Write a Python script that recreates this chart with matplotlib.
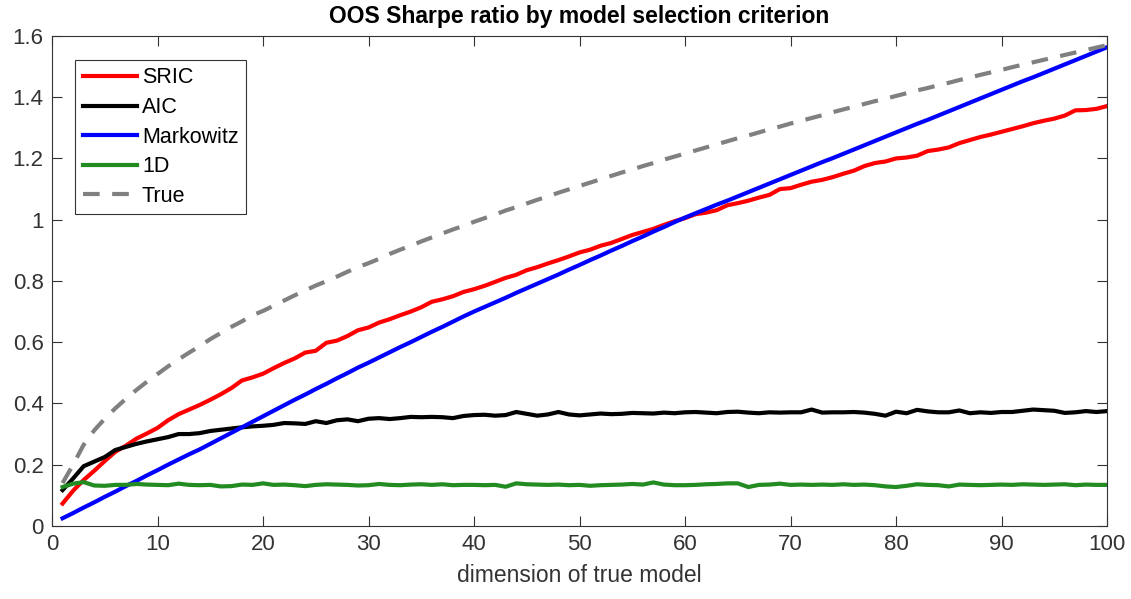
import numpy as np
import matplotlib
matplotlib.use("Agg")
import matplotlib.pyplot as plt
import matplotlib.ticker as ticker

plt.rcParams['font.family'] = ['Liberation Sans', 'DejaVu Sans']

# dimension of true model
dims = list(range(1, 101))

sric = [0.073, 0.115, 0.150, 0.180, 0.212, 0.242, 0.262, 0.285, 0.302, 0.320,
        0.345, 0.365, 0.380, 0.395, 0.412, 0.430, 0.450, 0.475, 0.485, 0.497,
        0.515, 0.532, 0.547, 0.566, 0.572, 0.598, 0.605, 0.620, 0.639, 0.648,
        0.664, 0.675, 0.688, 0.700, 0.714, 0.732, 0.740, 0.750, 0.764, 0.773,
        0.784, 0.797, 0.810, 0.820, 0.835, 0.845, 0.857, 0.868, 0.880, 0.893,
        0.902, 0.915, 0.924, 0.937, 0.950, 0.960, 0.970, 0.983, 0.995, 1.005,
        1.018, 1.023, 1.031, 1.047, 1.054, 1.062, 1.072, 1.081, 1.100, 1.103,
        1.114, 1.124, 1.130, 1.139, 1.150, 1.160, 1.175, 1.185, 1.190, 1.200,
        1.203, 1.209, 1.224, 1.229, 1.236, 1.250, 1.260, 1.270, 1.278, 1.287,
        1.296, 1.305, 1.315, 1.323, 1.330, 1.340, 1.357, 1.358, 1.362, 1.371]

aic = [0.117, 0.155, 0.195, 0.210, 0.225, 0.248, 0.258, 0.268, 0.276, 0.283,
       0.290, 0.300, 0.300, 0.303, 0.310, 0.314, 0.318, 0.322, 0.325, 0.327,
       0.330, 0.336, 0.335, 0.333, 0.342, 0.336, 0.345, 0.348, 0.342, 0.350,
       0.352, 0.349, 0.352, 0.356, 0.355, 0.356, 0.355, 0.352, 0.359, 0.362,
       0.363, 0.360, 0.362, 0.372, 0.366, 0.360, 0.364, 0.372, 0.364, 0.361,
       0.364, 0.367, 0.365, 0.366, 0.369, 0.368, 0.367, 0.370, 0.368, 0.371,
       0.372, 0.370, 0.368, 0.372, 0.373, 0.370, 0.368, 0.371, 0.370, 0.371,
       0.371, 0.380, 0.370, 0.371, 0.371, 0.372, 0.370, 0.366, 0.360, 0.373,
       0.368, 0.379, 0.374, 0.371, 0.371, 0.377, 0.368, 0.371, 0.369, 0.372,
       0.372, 0.376, 0.380, 0.378, 0.376, 0.369, 0.371, 0.375, 0.372, 0.375]

markowitz = [0.025, 0.042, 0.060, 0.077, 0.095, 0.112, 0.130, 0.147, 0.165, 0.182,
             0.200, 0.217, 0.234, 0.250, 0.268, 0.286, 0.304, 0.322, 0.340, 0.358,
             0.376, 0.394, 0.412, 0.429, 0.447, 0.464, 0.482, 0.499, 0.517, 0.533,
             0.550, 0.567, 0.584, 0.600, 0.617, 0.634, 0.650, 0.667, 0.684, 0.700,
             0.715, 0.730, 0.745, 0.761, 0.776, 0.791, 0.806, 0.821, 0.837, 0.852,
             0.868, 0.883, 0.899, 0.914, 0.930, 0.945, 0.961, 0.976, 0.992, 1.007,
             1.021, 1.035, 1.049, 1.062, 1.076, 1.090, 1.104, 1.118, 1.132, 1.146,
             1.160, 1.174, 1.188, 1.201, 1.215, 1.229, 1.243, 1.257, 1.271, 1.285,
             1.299, 1.313, 1.326, 1.340, 1.354, 1.368, 1.382, 1.396, 1.410, 1.424,
             1.438, 1.452, 1.465, 1.479, 1.493, 1.507, 1.521, 1.535, 1.549, 1.563]

one_d = [0.127, 0.138, 0.143, 0.132, 0.131, 0.134, 0.134, 0.137, 0.135, 0.134,
         0.133, 0.138, 0.134, 0.133, 0.134, 0.129, 0.130, 0.135, 0.134, 0.139,
         0.134, 0.135, 0.133, 0.130, 0.134, 0.136, 0.135, 0.134, 0.132, 0.133,
         0.137, 0.134, 0.133, 0.135, 0.136, 0.134, 0.136, 0.133, 0.134, 0.134,
         0.133, 0.134, 0.128, 0.139, 0.136, 0.135, 0.134, 0.135, 0.133, 0.134,
         0.131, 0.133, 0.134, 0.135, 0.137, 0.135, 0.142, 0.135, 0.133, 0.133,
         0.134, 0.136, 0.137, 0.139, 0.139, 0.127, 0.134, 0.135, 0.138, 0.134,
         0.135, 0.134, 0.135, 0.134, 0.136, 0.134, 0.135, 0.133, 0.129, 0.127,
         0.131, 0.136, 0.134, 0.133, 0.129, 0.135, 0.134, 0.133, 0.134, 0.135,
         0.134, 0.136, 0.135, 0.134, 0.135, 0.136, 0.133, 0.135, 0.134, 0.134]

true_sr = [0.140, 0.200, 0.265, 0.312, 0.350, 0.384, 0.415, 0.444, 0.471, 0.496,
           0.521, 0.544, 0.566, 0.587, 0.610, 0.630, 0.650, 0.668, 0.688, 0.702,
           0.719, 0.736, 0.753, 0.769, 0.785, 0.799, 0.814, 0.830, 0.845, 0.858,
           0.872, 0.888, 0.902, 0.915, 0.929, 0.942, 0.955, 0.968, 0.980, 0.993,
           1.005, 1.017, 1.030, 1.041, 1.053, 1.065, 1.076, 1.088, 1.099, 1.110,
           1.121, 1.132, 1.143, 1.154, 1.164, 1.175, 1.185, 1.196, 1.206, 1.216,
           1.226, 1.236, 1.246, 1.256, 1.266, 1.275, 1.285, 1.295, 1.304, 1.314,
           1.323, 1.332, 1.341, 1.351, 1.360, 1.369, 1.378, 1.387, 1.395, 1.404,
           1.413, 1.422, 1.430, 1.439, 1.447, 1.456, 1.464, 1.473, 1.481, 1.489,
           1.498, 1.506, 1.514, 1.522, 1.530, 1.538, 1.546, 1.554, 1.562, 1.570]

series = [("SRIC", sric, "#ff0000", "-"),
          ("AIC", aic, "#000000", "-"),
          ("Markowitz", markowitz, "#0000ff", "-"),
          ("1D", one_d, "#228b22", "-"),
          ("True", true_sr, "#808080", "--")]

fig = plt.figure(figsize=(11.31, 5.99), dpi=100)
ax = fig.add_axes([0.046, 0.122, 0.9328, 0.818])

for name, vals, col, ls in series:
    line, = ax.plot(dims, vals, color=col, linestyle=ls, linewidth=3, label=name)
    if ls == "--":
        line.set_dashes([4, 3])

ax.set_xlim(0, 100)
ax.set_ylim(0, 1.6)
ax.set_xticks(np.arange(0, 101, 10))
ax.set_yticks(np.arange(0, 1.61, 0.2))
ax.yaxis.set_major_formatter(ticker.FuncFormatter(lambda v, p: f"{v:g}"))

txt = "#333333"
for sp in ax.spines.values():
    sp.set_color(txt)
    sp.set_linewidth(0.8)
ax.tick_params(direction="in", length=7, width=0.8, colors=txt,
               labelsize=16, top=True, right=True, pad=6)

ax.set_title("OOS Sharpe ratio by model selection criterion",
             fontsize=16.5, fontweight="bold", color="#000000", pad=9)
ax.set_xlabel("dimension of true model", fontsize=16.5, color=txt, labelpad=6)

leg = ax.legend(loc="upper left", bbox_to_anchor=(0.022, 0.951), fontsize=15.5,
                fancybox=False, framealpha=1, edgecolor=txt, handlelength=2.5,
                handletextpad=0.25, labelspacing=0.4, borderpad=0.35,
                borderaxespad=0)
leg.get_frame().set_linewidth(0.8)
for t in leg.get_texts():
    t.set_color("#000000")

fig.savefig("out.png", dpi=100)
